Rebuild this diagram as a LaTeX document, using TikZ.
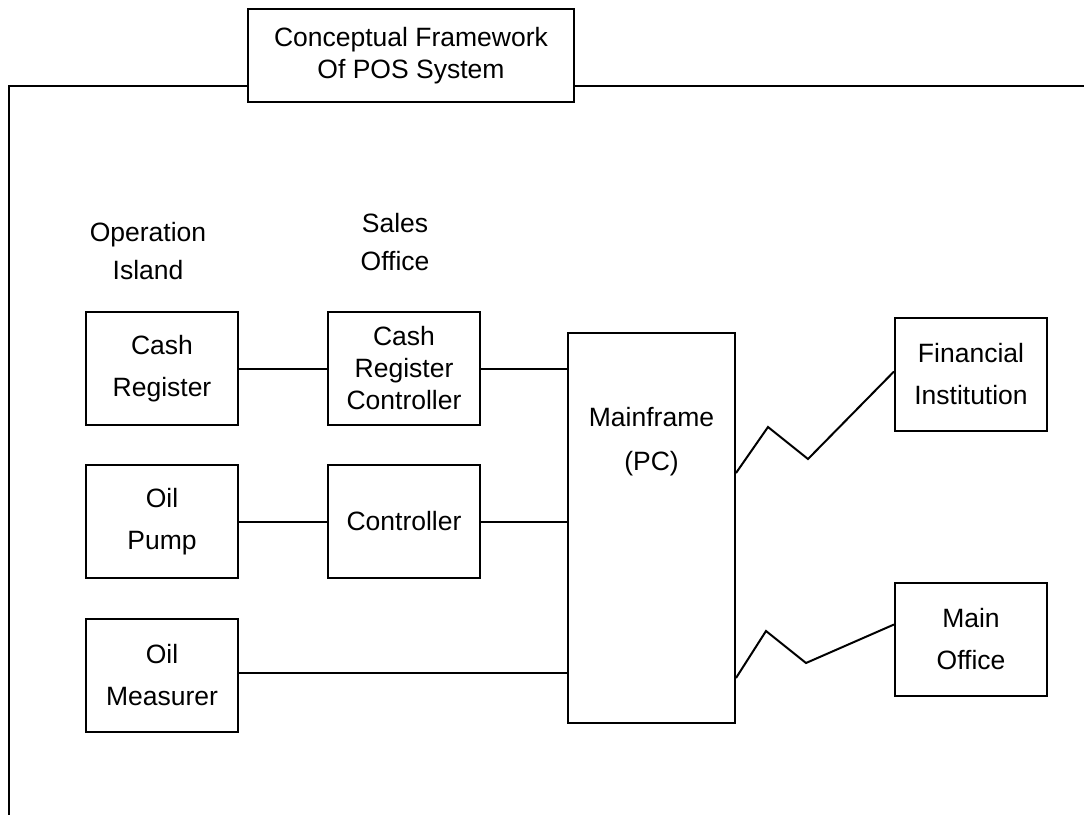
\documentclass[tikz,border=0pt]{standalone}
\usepackage{fontspec}
\setmainfont{Liberation Sans}
\usepackage{tikz}
\usetikzlibrary{positioning}
\usetikzlibrary{calc}

\begin{document}
\begin{tikzpicture}[
        x = 1pt, y = -1pt,
        unit/.style = {draw, rectangle, line width = 2pt, minimum width = 152pt,
                       minimum height = 113pt, align = center, inner sep = 0pt,
                       font = \fontsize{26.5}{42}\selectfont},
        tight/.style = {font = \fontsize{26.5}{32}\selectfont},
        caption/.style = {align = center, font = \fontsize{26.5}{38}\selectfont},
        link/.style = {line width = 2pt},
        ]
    \useasboundingbox (0,0) rectangle (1084,814);

    % header and frame
    \node[unit, tight, minimum width = 326pt, minimum height = 93pt] (title) at (411,55.5)
        {Conceptual Framework\\Of POS System};
    \draw[link] (9,816) |- (title.west |- 0,86);
    \draw[link] (title.east |- 0,86) -- (1086,86);

    % column headings
    \node[caption] (island) at (148,251) {Operation\\Island};
    \node[caption] (sales) at (395,242.5) {Sales\\Office};

    % operation island
    \node[unit] (cashreg) at (162,368.5) {Cash\\Register};
    \node[unit, below = 38pt of cashreg] (pump) {Oil\\Pump};
    \node[unit, below = 39pt of pump] (measurer) {Oil\\Measurer};

    % sales office
    \node[unit, tight, right = 88pt of cashreg] (crctrl) {Cash\\Register\\Controller};
    \node[unit, right = 88pt of pump] (ctrl) {Controller};

    % mainframe
    \node[unit, minimum width = 167pt, minimum height = 390pt] (mainframe) at (651.5,527.5) {};
    \node[align = center, font = \fontsize{26.5}{44}\selectfont] (mftext) at (mainframe.center |- 0,442)
        {Mainframe\\(PC)};

    % outside
    \node[unit] (bank) at (971,374.5) {Financial\\Institution};
    \node[unit] (office) at (971,639.5) {Main\\Office};

    % connections
    \draw[link] (cashreg) -- (crctrl);
    \draw[link] (pump) -- (ctrl);
    \draw[link] (crctrl.east) -- (crctrl.east -| mainframe.west);
    \draw[link] (ctrl.east) -- (ctrl.east -| mainframe.west);
    \draw[link] ([yshift = 3pt]measurer.east) -- ([yshift = 3pt]measurer.east -| mainframe.west);

    % lines to outside
    \draw[link] (mainframe.east |- 0,473) -- (768,427) -- (808,459) -- ([yshift = 3pt]bank.west);
    \draw[link] (mainframe.east |- 0,678) -- (766,631) -- (806,663) -- ([yshift = 15pt]office.west);
\end{tikzpicture}
\end{document}
